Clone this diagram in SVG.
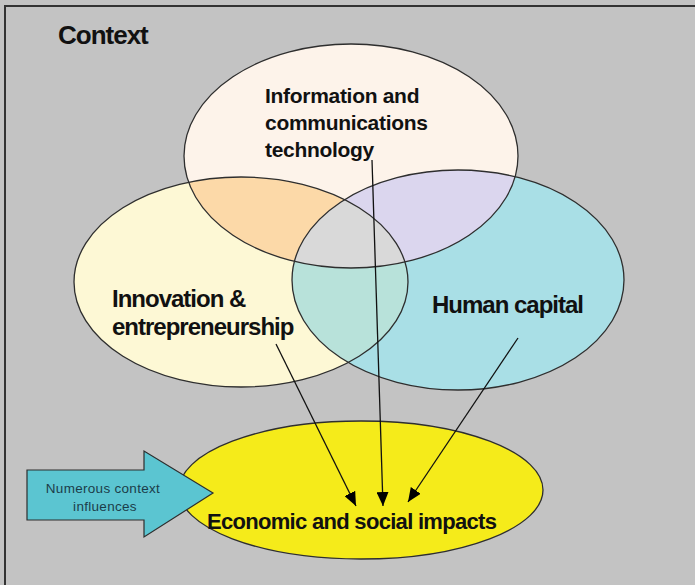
<svg xmlns="http://www.w3.org/2000/svg" xmlns:xlink="http://www.w3.org/1999/xlink" width="695" height="585" viewBox="0 0 695 585">
  <style>
    .outline { fill: none; stroke: #2e2e2e; stroke-width: 1.3; }
    .lbl { font-family: "Liberation Sans", Arial, sans-serif; font-weight: bold; fill: #111; }
    .conn { stroke: #111; stroke-width: 1.3; fill: none; marker-end: url(#head); }
  </style>
  <defs>
    <marker id="head" viewBox="0 0 14 12" refX="14" refY="6" markerWidth="14" markerHeight="12" markerUnits="userSpaceOnUse" orient="auto">
      <path d="M0,0 L14,6 L0,12 Z" fill="#000"/>
    </marker>
    <ellipse id="e-ict" cx="351" cy="156" rx="167" ry="112"/>
    <ellipse id="e-inn" cx="241" cy="282" rx="167" ry="105"/>
    <ellipse id="e-hum" cx="458" cy="280" rx="166" ry="110"/>
    <clipPath id="clip-ict"><use xlink:href="#e-ict"/></clipPath>
    <clipPath id="clip-inn"><use xlink:href="#e-inn"/></clipPath>
    <clipPath id="clip-hum"><use xlink:href="#e-hum"/></clipPath>
  </defs>

  <!-- backdrop and frame -->
  <rect x="0" y="0" width="695" height="585" fill="#c3c3c3"/>
  <path d="M5,585 L5,6 L695,6" fill="none" stroke="#333" stroke-width="2"/>
  <text class="lbl" x="58" y="44" font-size="26" letter-spacing="-1">Context</text>

  <!-- circles of the model -->
  <g id="ict">
    <use xlink:href="#e-ict" fill="#fdf3ea"/>
  </g>
  <g id="innovation">
    <use xlink:href="#e-inn" fill="#fdf8d5"/>
  </g>
  <g id="human-capital">
    <use xlink:href="#e-hum" fill="#a9dfe6"/>
  </g>

  <!-- overlapping areas -->
  <g id="overlaps">
    <use xlink:href="#e-inn" fill="#fcd9a8" clip-path="url(#clip-ict)"/>
    <use xlink:href="#e-hum" fill="#dbd6ee" clip-path="url(#clip-ict)"/>
    <use xlink:href="#e-hum" fill="#b8e2da" clip-path="url(#clip-inn)"/>
    <g clip-path="url(#clip-inn)">
      <use xlink:href="#e-ict" fill="#d9d9d9" clip-path="url(#clip-hum)"/>
    </g>
  </g>

  <g id="outlines">
    <use xlink:href="#e-ict" class="outline"/>
    <use xlink:href="#e-inn" class="outline"/>
    <use xlink:href="#e-hum" class="outline"/>
  </g>

  <g id="labels">
    <text class="lbl" font-size="21" letter-spacing="-0.3">
      <tspan x="265" y="103">Information and</tspan>
      <tspan x="265" y="130">communications</tspan>
      <tspan x="265" y="157">technology</tspan>
    </text>
    <text class="lbl" font-size="24" letter-spacing="-1">
      <tspan x="112" y="307">Innovation &amp;</tspan>
      <tspan x="112" y="335">entrepreneurship</tspan>
    </text>
    <text class="lbl" x="432" y="313" font-size="24" letter-spacing="-1">Human capital</text>
  </g>

  <!-- outcome -->
  <g id="impacts">
    <ellipse cx="361" cy="490" rx="182" ry="69" fill="#f5eb1a" stroke="#2e2e2e" stroke-width="1.3"/>
    <text class="lbl" x="207" y="529" font-size="22" letter-spacing="-0.7">Economic and social impacts</text>
  </g>

  <!-- external influences -->
  <g id="context-influences">
    <polygon points="27,470 144,470 144,451 213,493 144,537 144,520 27,520" fill="#5bc5d1" stroke="#2e2e2e" stroke-width="1.2"/>
    <text font-family="Liberation Sans, Arial, sans-serif" font-size="13.5" fill="#1b3d4a" text-anchor="middle" letter-spacing="0.3">
      <tspan x="105" y="493">Numerous context</tspan>
      <tspan x="105" y="511">influences</tspan>
    </text>
  </g>

  <!-- causal links -->
  <g id="connectors">
    <line class="conn" x1="372" y1="160" x2="383" y2="506"/>
    <line class="conn" x1="276" y1="344" x2="356" y2="506"/>
    <line class="conn" x1="518" y1="338" x2="408" y2="502"/>
  </g>
</svg>
